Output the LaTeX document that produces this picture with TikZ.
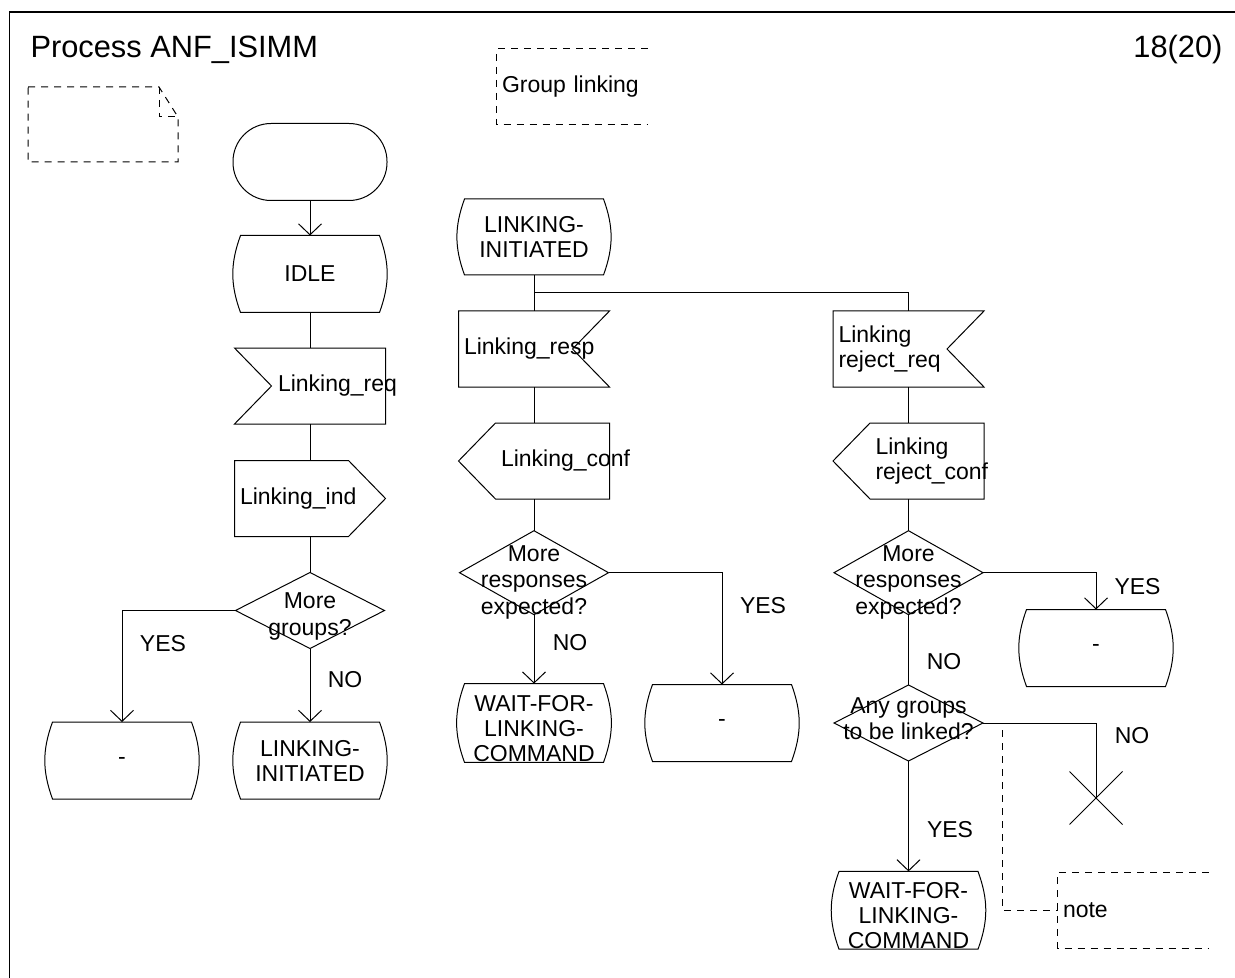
\documentclass[tikz,border=0pt]{standalone}
\usepackage{fontspec}
\setmainfont{Liberation Sans}
\usepackage{tikz}
\usetikzlibrary{positioning,calc,arrows.meta}

\tikzset{
    sdl/.style={inner sep=0pt, align=center, font=\fontsize{11.5}{12.5}\selectfont,
        execute at begin node={\hyphenpenalty=10000}},
    state/.style={sdl, minimum width=69pt, minimum height=38pt},
    terminal/.style={sdl, minimum width=76.5pt, minimum height=38pt},
    signal/.style={sdl, minimum width=75pt, minimum height=37.5pt},
    decision/.style={sdl, minimum width=74pt, minimum height=37.5pt, font=\fontsize{11.5}{13.3}\selectfont},
    padl/.style 2 args={align=left, inner xsep=#1, text width=#2},
    drop/.style 2 args={text height=#1, text depth=#2},
    branch/.style={inner sep=0pt, font=\fontsize{11.5}{12.5}\selectfont},
    flow/.style={-{Straight Barb[length=5.5pt,width=11.5pt]}},
    annot/.style={dash pattern=on 3.5pt off 3pt},
}

\begin{document}
\begin{tikzpicture}[x=0.5pt, y=-0.5pt, line width=0.5pt]
    \useasboundingbox (0,0) rectangle (1235,978);
    % frame and heading
    \draw[line width=0.6pt] (9.5,978) -- (9.5,12) -- (1235,12);
    \node[anchor=base west, inner sep=0pt, font=\fontsize{15.4}{18}\selectfont] (title) at (30,58) {Process ANF\_ISIMM};
    \node[anchor=base east, inner sep=0pt, font=\fontsize{15.4}{18}\selectfont] (page) at (1223,58) {18(20)};
    \draw[annot] (28,87) -- (159,87) -- (178,117) -- (178,162) -- (28,162) -- cycle;
    \draw[annot] (159,87) -- (159,117) -- (178,117);
    \node[signal, padl={2.5pt}{70pt}] (grp) at (572,87) {Group linking};
    \draw[annot] (grp.north east) -- (grp.north west) -- (grp.south west) -- (grp.south east);

    % left column
    \node[terminal] (start) at (310,162) {};
    \node[state] (idle) at (310,274) {IDLE};
    \node[signal, padl={21.5pt}{32pt}] (lreq) at (310,386) {Linking\_req};
    \node[signal, padl={2.5pt}{70pt}] (lind) at (310,498.5) {Linking\_ind};
    \node[decision, drop={24.7pt}{-0.6pt}] (dgrp) at (310,610.5) {More\\groups?};
    \node[state] (dash1) at (122,760.5) {-};
    \node[state] (linit1) at (310,760.5) {LINKING-\\INITIATED};

    % middle column
    \node[state, minimum height=37.5pt] (linit2) at (534,237) {LINKING-\\INITIATED};
    \coordinate (fork) at (534,293);
    \node[signal, padl={2.5pt}{70pt}] (lresp) at (534,349) {Linking\_resp};
    \node[signal, padl={21pt}{33pt}] (lconf) at (534,461) {Linking\_conf};
    \node[decision, drop={41.5pt}{-4.1pt}] (dresp) at (534,572.7) {More\\responses\\expected?};
    \node[state, drop={38.9pt}{-5.5pt}] (wait1) at (534,723) {WAIT-FOR-\\LINKING-\\COMMAND};
    \node[state] (dash2) at (722,723) {-};

    % right column
    \node[signal, padl={2.5pt}{70pt}] (rjreq) at (908.5,349) {Linking\\reject\_req};
    \node[signal, padl={21pt}{33pt}] (rjconf) at (908.5,461) {Linking\\reject\_conf};
    \node[decision, drop={41.5pt}{-4.1pt}] (drj) at (908.5,572.7) {More\\responses\\expected?};
    \node[state] (dash3) at (1096,648) {-};
    \node[decision, drop={19.2pt}{2.5pt}] (dany) at (908.5,723) {Any groups\\to be linked?};
    \node[minimum size=26pt, inner sep=0pt] (stop) at (1096,798) {};
    \node[state, drop={38.4pt}{-5pt}] (wait2) at (908.5,910.3) {WAIT-FOR-\\LINKING-\\COMMAND};
    \node[signal, padl={2.5pt}{70pt}] (note) at (1133,910) {note};
    \coordinate (bend) at (1002,723);

    % symbol outlines
    \draw[rounded corners=19pt] (start.north west) rectangle (start.south east);
    \foreach \n in {idle,dash1,linit1,linit2,wait1,dash2,dash3,wait2}
        \draw (\n.north west) to[bend right=20] (\n.south west) -- (\n.south east) to[bend right=20] (\n.north east) -- cycle;
    \draw (lreq.north west) -- (lreq.north east) -- (lreq.south east) -- (lreq.south west) -- ($(lreq.west)+(37,0)$) -- cycle;
    \foreach \n in {lresp,rjreq}
        \draw (\n.north west) -- (\n.north east) -- ($(\n.east)+(-37,0)$) -- (\n.south east) -- (\n.south west) -- cycle;
    \draw (lind.north west) -- ($(lind.north east)+(-37,0)$) -- (lind.east) -- ($(lind.south east)+(-37,0)$) -- (lind.south west) -- cycle;
    \foreach \n in {lconf,rjconf}
        \draw (\n.west) -- ($(\n.north west)+(37,0)$) -- (\n.north east) -- (\n.south east) -- ($(\n.south west)+(37,0)$) -- cycle;
    \foreach \n in {dgrp,dresp,drj,dany}
        \draw (\n.west) -- (\n.north) -- (\n.east) -- (\n.south) -- cycle;
    \draw (stop.north west) -- (stop.south east) (stop.north east) -- (stop.south west);
    \draw[annot] (note.north east) -- (note.north west) -- (note.south west) -- (note.south east);

    % flow lines
    \draw[flow] (start.south) -- (idle.north);
    \draw (idle.south) -- (lreq.north) (lreq.south) -- (lind.north) (lind.south) -- (dgrp.north);
    \draw[flow] (dgrp.west) -| (dash1.north);
    \draw[flow] (dgrp.south) -- (linit1.north);
    \draw (linit2.south) -- (lresp.north) (lresp.south) -- (lconf.north) (lconf.south) -- (dresp.north);
    \draw (fork) -| (rjreq.north);
    \draw[flow] (dresp.south) -- (wait1.north);
    \draw[flow] (dresp.east) -| (dash2.north);
    \draw (rjreq.south) -- (rjconf.north) (rjconf.south) -- (drj.north);
    \draw[flow] (drj.east) -| (dash3.north);
    \draw (drj.south) -- (dany.north);
    \draw (dany.east) -| (stop.center);
    \draw[flow] (dany.south) -- (wait2.north);
    \draw[annot] (dany.east) -- (bend) |- (note.west);

    % branch labels
    \node[branch] (yes1) at (163,644) {YES};
    \node[branch] (no1) at (345,680) {NO};
    \node[branch] (no2) at (570,643) {NO};
    \node[branch] (yes2) at (763,606) {YES};
    \node[branch] (yes3) at (1137.5,587) {YES};
    \node[branch] (no3) at (944,662) {NO};
    \node[branch] (no4) at (1132,736) {NO};
    \node[branch] (yes4) at (950,830) {YES};
\end{tikzpicture}
\end{document}
